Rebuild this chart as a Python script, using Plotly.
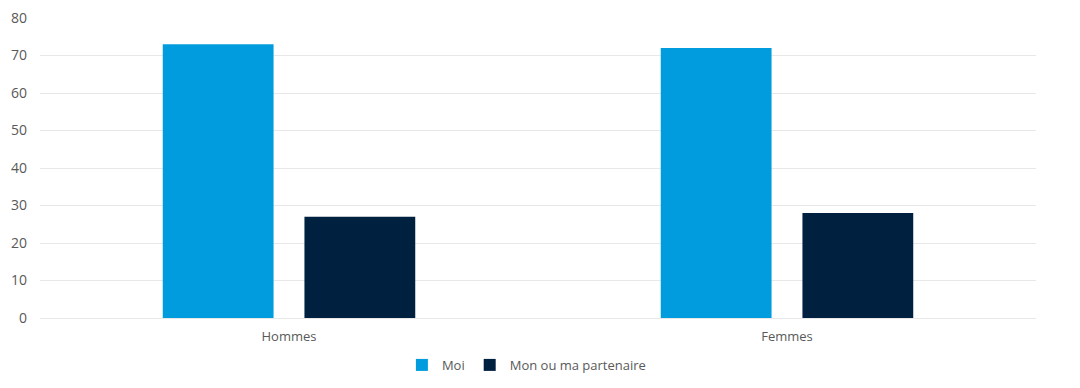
import plotly.graph_objects as go

categories = ["Hommes", "Femmes"]
moi = [73, 72]
partenaire = [27, 28]
series_names = ["Moi", "Mon ou ma partenaire"]
y_ticks = [0, 10, 20, 30, 40, 50, 60, 70, 80]

fig = go.Figure()
fig.add_trace(go.Bar(x=categories, y=moi, name=series_names[0], marker_color="#009CDE", marker_line_width=0))
fig.add_trace(go.Bar(x=categories, y=partenaire, name=series_names[1], marker_color="#00203F", marker_line_width=0))

fig.update_layout(
    width=1080, height=388,
    margin=dict(l=32, r=52, t=10, b=78, autoexpand=False),
    plot_bgcolor="white", paper_bgcolor="white",
    barmode="group", bargap=0.431, bargroupgap=0.218,
    font=dict(family="Open Sans, sans-serif", size=13, color="#595959"),
    showlegend=True,
    legend=dict(orientation="h", x=0.48, xanchor="center", xref="container",
                y=0.08, yanchor="middle", yref="container",
                font=dict(size=13, color="#595959"), itemwidth=30, traceorder="normal"),
)
fig.update_yaxes(range=[0, 80], tickvals=y_ticks, showgrid=True, gridcolor="#E8E8E8", gridwidth=1,
                 zeroline=False, showline=False, ticks="", ticklabelstandoff=12, automargin=False,
                 ticklabeloverflow="allow", tickfont=dict(size=14, color="#595959"))
fig.update_xaxes(showline=True, linecolor="#E8E8E8", linewidth=1, ticks="", ticklabelstandoff=6,
                 automargin=False, tickfont=dict(size=13, color="#595959"))

fig.write_html("out.html")
